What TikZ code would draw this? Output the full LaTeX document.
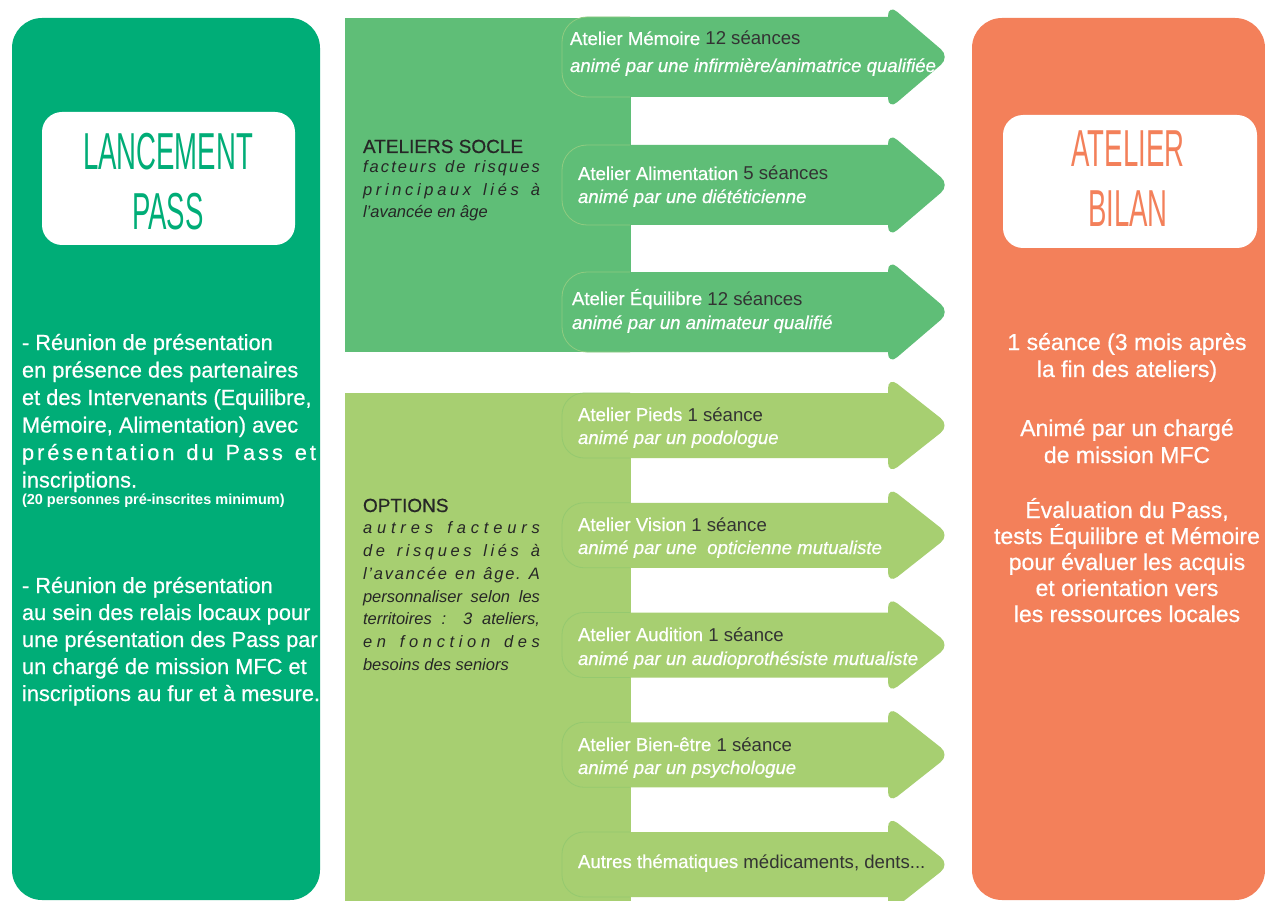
\documentclass[tikz,border=0pt]{standalone}
\usepackage{fontspec}
\setmainfont{Liberation Sans}
\newfontfamily\medfont[FakeBold=0.6]{Liberation Sans}
\newfontfamily\titlefont[FakeStretch=0.53]{Liberation Sans}
\definecolor{lgreen}{HTML}{00AD77}
\definecolor{socle}{HTML}{5FBE77}
\definecolor{optg}{HTML}{A7CF71}
\definecolor{orangeb}{HTML}{F3805A}
\definecolor{darktxt}{HTML}{262626}
\definecolor{seance}{HTML}{333333}
\definecolor{socleline}{HTML}{8FCB80}
\definecolor{optline}{HTML}{95C96F}
% spread letters of a line over a given width (spaces written as ~)
\def\spreadaux#1{\ifx#1\relax\else#1\hskip0pt plus 1fil\relax\expandafter\spreadaux\fi}
\newcommand\jline[2]{\makebox[#1][s]{\spreadaux#2\relax\unskip}}
% arrow: #1 centre y, #2 body half height, #3 head half height, #4 radius, #5 fill, #6 outline
\newcommand\fleche[6]{%
  \fill[#5] (900,#1-#2) -- (562+#4,#1-#2) arc[start angle=270,end angle=180,radius=#4]
    -- (562,#1+#2-#4) arc[start angle=180,end angle=90,radius=#4] -- (900,#1+#2) -- cycle;
  \fill[#5, rounded corners=12] (888,#1-#3) -- (950,#1) -- (888,#1+#3) -- cycle;
  \draw[#6, line width=0.8] (630,#1-#2) -- (562+#4,#1-#2) arc[start angle=270,end angle=180,radius=#4]
    -- (562,#1+#2-#4) arc[start angle=180,end angle=90,radius=#4] -- (630,#1+#2);
}
\tikzset{
  every node/.style={inner sep=0pt, outer sep=0pt},
  lefttxt/.style={anchor=base west, text=white, font=\medfont\fontsize{21.8}{27}\selectfont},
  smalltxt/.style={anchor=base west, text=white, font=\fontsize{14.5}{17}\selectfont\bfseries},
  righttxt/.style={anchor=base, text=white, font=\medfont\fontsize{23}{27}\selectfont},
  titletxt/.style={anchor=base, font=\titlefont\fontsize{52}{60}\selectfont},
  grouphead/.style={anchor=base west, text=darktxt, font=\medfont\fontsize{19}{22}\selectfont},
  groupsub/.style={anchor=base west, text=darktxt, font=\fontsize{16.5}{20}\selectfont\itshape},
  atitle/.style={anchor=base west, text=white, font=\medfont\fontsize{18.6}{22}\selectfont},
  asub/.style={anchor=base west, text=white, font=\medfont\fontsize{18.6}{22}\selectfont\itshape},
}
\newcommand\sea[1]{{\normalfont\color{seance}#1}}
\begin{document}
\begin{tikzpicture}[x=1pt,y=-1pt]
\path[use as bounding box] (0,0) rectangle (1265,901);
\clip (0,0) rectangle (1265,901);
\fill[white] (0,0) rectangle (1265,901);

% left panel
\fill[lgreen, rounded corners=30] (12,18) rectangle (320,900);
\fill[white, rounded corners=20] (42,112) rectangle (295,245);
\node[titletxt, text=lgreen] (tl1) at (168,170) {LANCEMENT};
\node[titletxt, text=lgreen] (tl2) at (168,230) {PASS};

\node[lefttxt] (l1) at (22,350) {- Réunion de présentation};
\node[lefttxt] (l2) at (22,377.5) {en présence des partenaires};
\node[lefttxt] (l3) at (22,405) {et des Intervenants (Equilibre,};
\node[lefttxt] (l4) at (22,432.5) {Mémoire, Alimentation) avec};
\node[lefttxt] (l5) at (22,460) {\jline{294pt}{présentation~du~Pass~et}};
\node[lefttxt] (l6) at (22,487.5) {inscriptions.};
\node[smalltxt] (l7) at (22,504) {(20 personnes pré-inscrites minimum)};
\node[lefttxt] (l8) at (22,593) {- Réunion de présentation};
\node[lefttxt] (l9) at (22,620) {au sein des relais locaux pour};
\node[lefttxt] (l10) at (22,647) {une présentation des Pass par};
\node[lefttxt] (l11) at (22,674) {un chargé de mission MFC et};
\node[lefttxt] (l12) at (22,701) {inscriptions au fur et à mesure.};

% right panel
\fill[orangeb, rounded corners=30] (972,18) rectangle (1265,900);
\fill[white, rounded corners=20] (1003,115) rectangle (1257,248);
\node[titletxt, text=orangeb] (tr1) at (1128,167) {ATELIER};
\node[titletxt, text=orangeb] (tr2) at (1128,226) {BILAN};

\node[righttxt] (r1) at (1127,350) {1 séance (3 mois après};
\node[righttxt] (r2) at (1127,377) {la fin des ateliers)};
\node[righttxt] (r3) at (1127,436) {Animé par un chargé};
\node[righttxt] (r4) at (1127,463) {de mission MFC};
\node[righttxt] (r5) at (1127,518) {Évaluation du Pass,};
\node[righttxt] (r6) at (1127,544) {tests Équilibre et Mémoire};
\node[righttxt] (r7) at (1127,570) {pour évaluer les acquis};
\node[righttxt] (r8) at (1127,596) {et orientation vers};
\node[righttxt] (r9) at (1127,622) {les ressources locales};

% socle block
\fill[socle] (345,18) rectangle (631,352);
\fleche{57}{40}{53}{25}{socle}{socleline}
\fleche{185}{40}{53}{25}{socle}{socleline}
\fleche{312}{40}{53}{25}{socle}{socleline}

\node[grouphead] (s0) at (363,153) {ATELIERS SOCLE};
\node[groupsub] (s1) at (363,173) {\jline{177pt}{facteurs~de~risques}};
\node[groupsub] (s2) at (363,195.5) {\jline{177pt}{principaux~liés~à}};
\node[groupsub] (s3) at (363,218) {l'avancée en âge};

\node[atitle] (a1t) at (570,45) {Atelier Mémoire \sea{12 séances}};
\node[asub] (a1s) at (570,72) {animé par une infirmière/animatrice qualifiée};
\node[atitle] (a2t) at (578,180) {Atelier Alimentation \sea{5 séances}};
\node[asub] (a2s) at (578,203) {animé par une diététicienne};
\node[atitle] (a3t) at (572,305) {Atelier Équilibre \sea{12 séances}};
\node[asub] (a3s) at (572,329) {animé par un animateur qualifié};

% options block
\fill[optg] (345,393) rectangle (631,901);
\fleche{425.5}{32.5}{49}{22}{optg}{optline}
\fleche{535.25}{32.5}{49}{22}{optg}{optline}
\fleche{645}{32.5}{49}{22}{optg}{optline}
\fleche{754.75}{32.5}{49}{22}{optg}{optline}
\fleche{864.5}{32.5}{49}{22}{optg}{optline}

\node[grouphead] (o0) at (363,512) {OPTIONS};
\node[groupsub] (o1) at (363,533) {\jline{177pt}{autres~facteurs}};
\node[groupsub] (o2) at (363,556) {\jline{177pt}{de~risques~liés~à}};
\node[groupsub] (o3) at (363,579) {\jline{177pt}{l'avancée~en~âge.~A}};
\node[groupsub] (o4) at (363,602) {\makebox[177pt][s]{personnaliser selon les}};
\node[groupsub] (o5) at (363,624) {\makebox[177pt][s]{territoires : 3 ateliers,}};
\node[groupsub] (o6) at (363,647) {\jline{177pt}{en~fonction~des}};
\node[groupsub] (o7) at (363,670) {besoins des seniors};

\node[atitle] (b1t) at (578,421) {Atelier Pieds \sea{1 séance}};
\node[asub] (b1s) at (578,444) {animé par un podologue};
\node[atitle] (b2t) at (578,531) {Atelier Vision \sea{1 séance}};
\node[asub] (b2s) at (578,554) {animé par une~~opticienne mutualiste};
\node[atitle] (b3t) at (578,641) {Atelier Audition \sea{1 séance}};
\node[asub] (b3s) at (578,665) {animé par un audioprothésiste mutualiste};
\node[atitle] (b4t) at (578,751) {Atelier Bien-être \sea{1 séance}};
\node[asub] (b4s) at (578,774) {animé par un psychologue};
\node[atitle] (b5t) at (578,868) {Autres thématiques \sea{médicaments, dents...}};
\end{tikzpicture}
\end{document}
